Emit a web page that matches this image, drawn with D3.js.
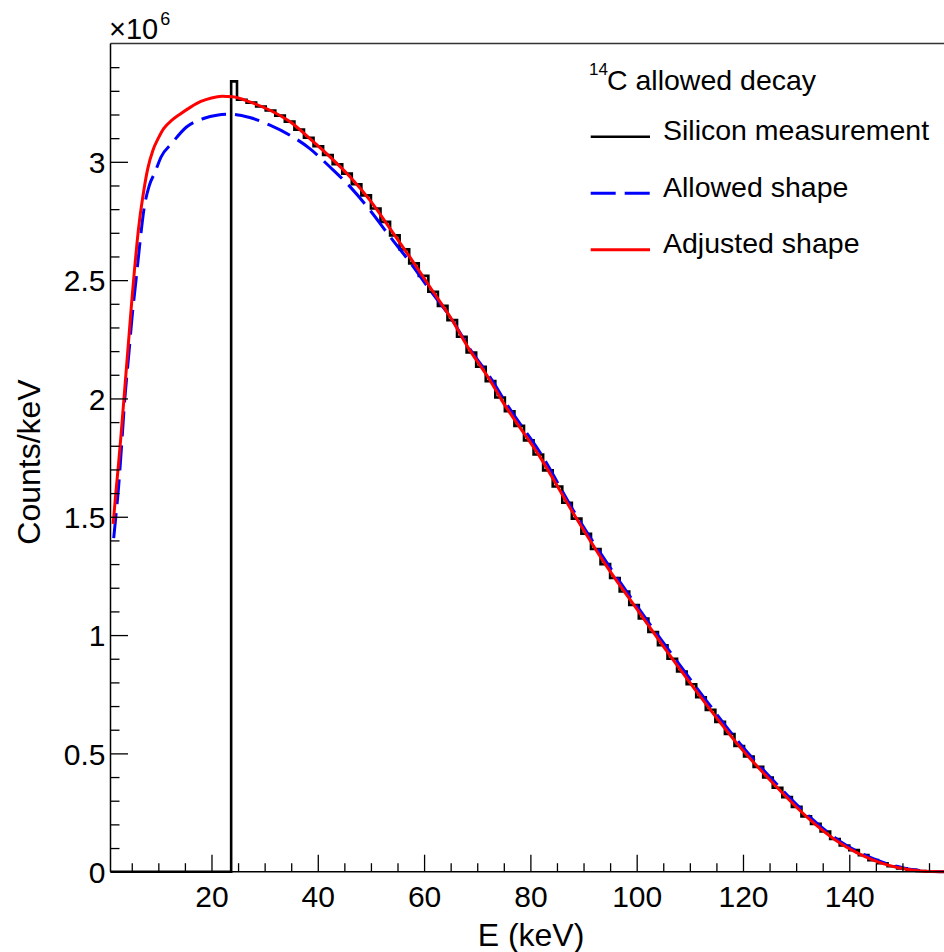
<!DOCTYPE html>
<html>
<head>
<meta charset="utf-8">
<script src="https://cdn.jsdelivr.net/npm/d3@7"></script>
<style>
  html, body { margin: 0; padding: 0; background: #fff; }
  svg { display: block; }
  text { font-family: "Liberation Sans", Arial, Helvetica, sans-serif; fill: #000; }
</style>
</head>
<body>
<svg id="chart" width="944" height="952"></svg>
<script>
// ---------------- data (values in units of 10^6 counts/keV) ----------------
const xTickValues = [20, 40, 60, 80, 100, 120, 140];
const yTickValues = [0, 0.5, 1, 1.5, 2, 2.5, 3];

// Silicon measurement histogram
// first (threshold) bin: [low edge, high edge, content]
const histThresholdBin = [23.7, 24.8, 3.34];
// following regular bins: start edge, width (keV), contents
const histStartEdge = 24.8;
const histBinWidth = 1.8;
const histCounts = [
  3.262, 3.250, 3.234, 3.217, 3.195, 3.170, 3.136, 3.102, 3.066, 3.029,
  2.990, 2.950, 2.905, 2.858, 2.803, 2.746, 2.689, 2.630, 2.571, 2.518,
  2.451, 2.391, 2.331, 2.261, 2.194, 2.134, 2.073, 2.004, 1.946, 1.884,
  1.823, 1.763, 1.696, 1.628, 1.559, 1.492, 1.428, 1.364, 1.300, 1.241,
  1.184, 1.127, 1.070, 1.013, 0.957, 0.900, 0.846, 0.792, 0.737, 0.684,
  0.633, 0.582, 0.531, 0.487, 0.443, 0.398, 0.355, 0.315, 0.274, 0.234,
  0.202, 0.170, 0.138, 0.111, 0.091, 0.070, 0.049, 0.036, 0.023, 0.014,
  0.008, 0.003, 0.001, 0.0
];

// Allowed shape (blue dashed)
const allowedE = [1.6, 2.0, 2.5, 2.9, 3.7, 4.5, 5.0, 5.8, 6.5, 7.3, 8.3, 9.4, 10.5, 12.5, 15.3, 18.5, 21, 23.5,
  27.2, 31, 34.8, 38.5, 42.3, 46.1, 49.8, 53.6, 57.3, 61.1, 64.9, 68.6, 72.4, 76, 82, 88, 94.4, 100.6,
  106.9, 113.2, 119.4, 125.7, 132, 138.3, 144.5, 150.8, 154, 157, 160];
const allowedV = [1.41, 1.50, 1.62, 1.74, 2.00, 2.20, 2.33, 2.50, 2.65, 2.80, 2.90, 2.957, 3.02, 3.077, 3.147, 3.183, 3.197, 3.201,
  3.187, 3.155, 3.112, 3.056, 2.978, 2.894, 2.796, 2.683, 2.577, 2.458, 2.345, 2.21, 2.09, 1.96, 1.765, 1.53, 1.305, 1.105,
  0.91, 0.72, 0.542, 0.385, 0.243, 0.128, 0.055, 0.013, 0.003, 0.0, 0.0];

// Adjusted shape (red)
const adjustedE = [1.5, 2.0, 2.5, 3.0, 3.5, 4.0, 4.5, 5.0, 5.5, 6.0, 6.5, 7.0, 8.0, 9.0, 10.0, 11.0, 12.5, 14.0, 16.0, 18.0, 20.0, 22.0, 24.0,
  27.2, 31, 34.8, 38.5, 42.3, 46.1, 49.8, 53.6, 57.3, 61.1, 64.9, 68.6, 72.4, 74.6, 81.8, 88.1, 94.4, 100.6,
  106.9, 113.2, 119.4, 125.7, 132, 138.3, 144.5, 150.8, 153.9, 157, 160];
const adjustedV = [1.47, 1.60, 1.72, 1.85, 1.99, 2.13, 2.27, 2.41, 2.54, 2.66, 2.76, 2.84, 2.97, 3.05, 3.10, 3.14, 3.175, 3.20, 3.23, 3.255, 3.27, 3.277, 3.275,
  3.253, 3.218, 3.169, 3.098, 3.021, 2.936, 2.838, 2.718, 2.598, 2.471, 2.345, 2.204, 2.077, 1.993, 1.753, 1.514, 1.289, 1.092,
  0.894, 0.704, 0.528, 0.373, 0.232, 0.120, 0.049, 0.010, 0.002, 0.0, 0.0];

const legendHeaderSup = "14";
const legendHeader = "C allowed decay";
const seriesNames = ["Silicon measurement", "Allowed shape", "Adjusted shape"];
const seriesColors = ["#000000", "#0000ff", "#ff0000"];

// ---------------- drawing ----------------
(function () {
const svg = d3.select("#chart");
const W = 944, H = 952;
const mLeft = 110.5, mTop = 43.5, mBottom = 871.7;
const pxPerKeV = 5.315;

const x = d3.scaleLinear().domain([1, 160]).range([mLeft, mLeft + 159 * pxPerKeV]);
const y = d3.scaleLinear().domain([0, 3.5]).range([mBottom, mTop]);

svg.append("defs").append("clipPath").attr("id", "plotclip")
  .append("rect").attr("x", mLeft).attr("y", mTop).attr("width", W - mLeft).attr("height", mBottom - mTop + 2);

// histogram as step path
const histPts = [];
histPts.push([x.domain()[0], 0]);
histPts.push([histThresholdBin[0], 0]);
histPts.push([histThresholdBin[0], histThresholdBin[2]]);
histPts.push([histThresholdBin[1], histThresholdBin[2]]);
histCounts.forEach((v, i) => {
  const lo = histStartEdge + i * histBinWidth;
  histPts.push([lo, v]);
  histPts.push([lo + histBinWidth, v]);
});
const lastEdge = histStartEdge + histCounts.length * histBinWidth;
histPts.push([lastEdge, 0]);
histPts.push([x.domain()[1], 0]);

const stepGen = d3.line().x(d => x(d[0])).y(d => y(d[1]));
const curveGen = d3.line().x(d => x(d[0])).y(d => y(d[1])).curve(d3.curveMonotoneX);

const plot = svg.append("g").attr("clip-path", "url(#plotclip)");

plot.append("path").attr("d", stepGen(histPts))
  .attr("fill", "none").attr("stroke", seriesColors[0]).attr("stroke-width", 2.6)
  .attr("stroke-linejoin", "miter");

const allowedPts = allowedE.map((e, i) => [e, allowedV[i]]);
const adjustedPts = adjustedE.map((e, i) => [e, adjustedV[i]]);

plot.append("path").attr("d", curveGen(allowedPts))
  .attr("fill", "none").attr("stroke", seriesColors[1]).attr("stroke-width", 3)
  .attr("stroke-dasharray", "25 9");

plot.append("path").attr("d", curveGen(adjustedPts))
  .attr("fill", "none").attr("stroke", seriesColors[2]).attr("stroke-width", 3);

// frame top
svg.append("line").attr("x1", mLeft).attr("x2", W + 20).attr("y1", mTop).attr("y2", mTop)
  .attr("stroke", "#333").attr("stroke-width", 1.5);

// axes
const xMinor = d3.range(5, 160, 5).filter(v => v % 20 !== 0);
const yMinor = d3.range(0, 35).map(v => v / 10).filter(v => Math.round(v * 10) % 5 !== 0);

const gx = svg.append("g").attr("transform", `translate(0,${mBottom})`);
gx.call(d3.axisBottom(x).tickValues(xTickValues).tickSize(-17).tickSizeOuter(0).tickFormat(d3.format("d")));
gx.select(".domain").remove();
gx.selectAll(".tick line").attr("stroke", "#000").attr("stroke-width", 1.3);
gx.selectAll(".tick text").attr("y", 35.3).attr("dy", 0).attr("font-size", 30)
  .attr("font-family", "Liberation Sans, Arial, sans-serif");
const gxm = svg.append("g").attr("transform", `translate(0,${mBottom})`);
gxm.call(d3.axisBottom(x).tickValues(xMinor).tickSize(-8.5).tickSizeOuter(0).tickFormat(""));
gxm.select(".domain").remove();
gxm.selectAll(".tick line").attr("stroke", "#000").attr("stroke-width", 1.3);

const gy = svg.append("g").attr("transform", `translate(${mLeft},0)`);
gy.call(d3.axisLeft(y).tickValues(yTickValues).tickSize(-17.5).tickSizeOuter(0).tickPadding(5)
  .tickFormat(d => d === 0 ? "0" : d3.format("~g")(d)));
gy.select(".domain").remove();
gy.selectAll(".tick line").attr("stroke", "#000").attr("stroke-width", 1.3);
gy.selectAll(".tick text").attr("font-size", 30).attr("dy", "0.36em")
  .attr("font-family", "Liberation Sans, Arial, sans-serif");
const gym = svg.append("g").attr("transform", `translate(${mLeft},0)`);
gym.call(d3.axisLeft(y).tickValues(yMinor).tickSize(-9).tickSizeOuter(0).tickFormat(""));
gym.select(".domain").remove();
gym.selectAll(".tick line").attr("stroke", "#000").attr("stroke-width", 1.3);

// axis lines
svg.append("line").attr("x1", mLeft).attr("x2", W + 20).attr("y1", mBottom).attr("y2", mBottom)
  .attr("stroke", "#000").attr("stroke-width", 1.5);
svg.append("line").attr("x1", mLeft).attr("x2", mLeft).attr("y1", mTop).attr("y2", mBottom)
  .attr("stroke", "#000").attr("stroke-width", 1.5);

// exponent label
const ex = svg.append("text").attr("x", 109).attr("y", 39).attr("font-size", 29);
ex.append("tspan").text("\u00d710");
ex.append("tspan").attr("font-size", 18).attr("dx", 2).attr("dy", -14).text("6");

// axis titles
svg.append("text").attr("x", 531).attr("y", 946).attr("text-anchor", "middle")
  .attr("font-size", 32).text("E (keV)");
svg.append("text").attr("transform", "translate(40,462) rotate(-90)").attr("text-anchor", "middle")
  .attr("font-size", 32).text("Counts/keV");

// legend
const lg = svg.append("g");
lg.append("text").attr("x", 589).attr("y", 75).attr("font-size", 17).text(legendHeaderSup);
lg.append("text").attr("x", 607).attr("y", 90).attr("font-size", 28.5).text(legendHeader);
const rowLineY = [136.7, 193.3, 249.7];
const rowTextY = [140, 196.7, 253.3];
const dashes = [null, "25 9", null];
seriesNames.forEach((name, i) => {
  const ln = lg.append("line").attr("x1", 590.7).attr("x2", 650).attr("y1", rowLineY[i]).attr("y2", rowLineY[i])
    .attr("stroke", seriesColors[i]).attr("stroke-width", i === 0 ? 2.5 : 3);
  if (dashes[i]) ln.attr("stroke-dasharray", dashes[i]);
  lg.append("text").attr("x", 663).attr("y", rowTextY[i]).attr("font-size", 28.5).text(name);
});
})();
</script>
</body>
</html>
